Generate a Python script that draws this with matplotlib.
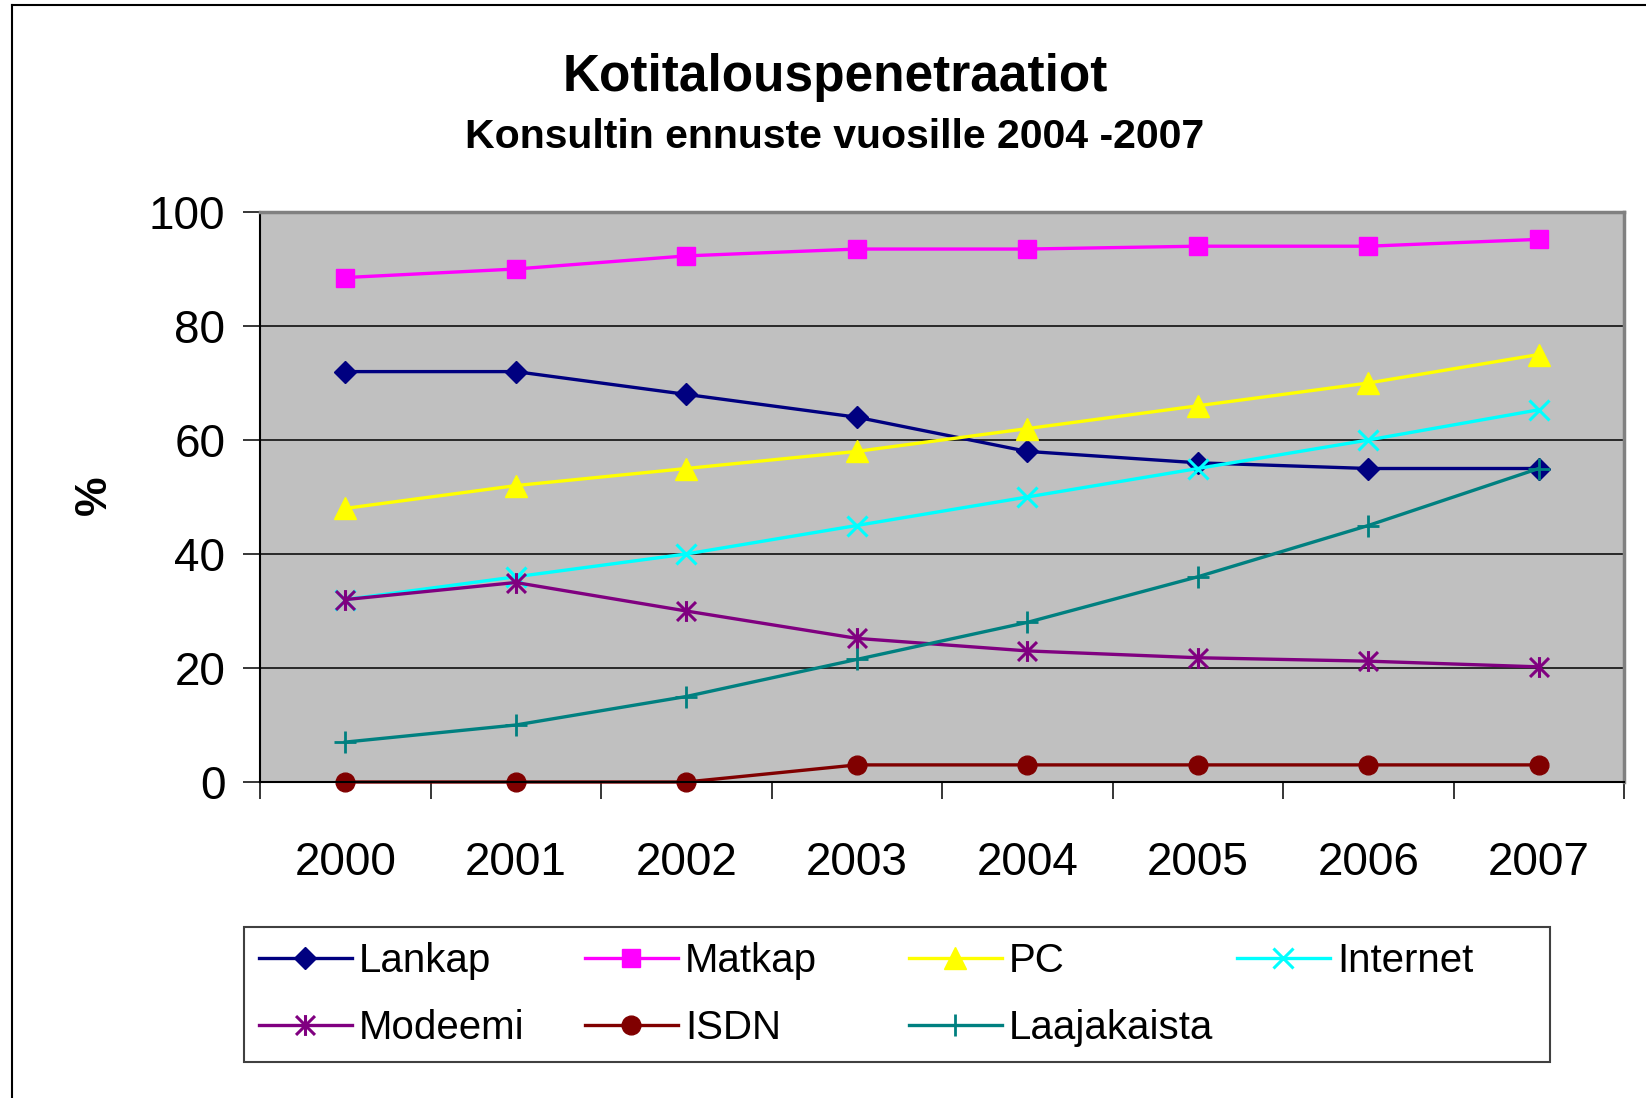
import matplotlib
matplotlib.use("Agg")
import matplotlib.pyplot as plt
from matplotlib.path import Path
from matplotlib.lines import Line2D
from matplotlib.patches import Rectangle

plt.rcParams['font.family'] = ['Liberation Sans', 'DejaVu Sans']

years = ['2000', '2001', '2002', '2003', '2004', '2005', '2006', '2007']
lankap = [72, 72, 68, 64, 58, 56, 55, 55]
matkap = [88.5, 90, 92.3, 93.5, 93.5, 94, 94, 95.2]
pc = [48, 52, 55, 58, 62, 66, 70, 75]
internet = [32, 36, 40, 45, 50, 55, 60, 65.3]
modeemi = [32, 35, 30, 25.2, 23, 21.8, 21.2, 20.2]
isdn = [0, 0, 0, 3, 3, 3, 3, 3]
laajakaista = [7, 10, 15, 21.5, 28, 36, 45, 55]

# excel style asterisk: X plus a vertical bar
star = Path([(-1, -1), (1, 1), (-1, 1), (1, -1), (0, -1.1), (0, 1.1)],
            [Path.MOVETO, Path.LINETO, Path.MOVETO, Path.LINETO, Path.MOVETO, Path.LINETO])

series = [
    ('Lankap', lankap, '#000080', dict(marker='D', ms=11)),
    ('Matkap', matkap, '#FF00FF', dict(marker='s', ms=13.5)),
    ('PC', pc, '#FFFF00', dict(marker='^', ms=16)),
    ('Internet', internet, '#00FFFF', dict(marker='x', ms=14.5, mew=2.2)),
    ('Modeemi', modeemi, '#800080', dict(marker=star, ms=15, mew=2.2, mfc='none')),
    ('ISDN', isdn, '#800000', dict(marker='o', ms=13.5)),
    ('Laajakaista', laajakaista, '#008080', dict(marker='+', ms=16, mew=2.0)),
]

W, H = 1646, 1098
fig = plt.figure(figsize=(W / 100, H / 100), dpi=100)
ax = fig.add_axes([260 / W, 1 - 782 / H, (1624 - 260) / W, (782 - 212) / H])
ax.set_facecolor('#C0C0C0')

x = range(len(years))
lines = []
for name, vals, col, st in series:
    ln, = ax.plot(x, vals, color=col, lw=2.4, label=name, mec=col, clip_on=False, **st)
    lines.append(ln)

ax.set_xlim(-0.5, 7.5)
ax.set_ylim(0, 100)
ax.set_yticks([0, 20, 40, 60, 80, 100])
ax.set_xticks([i - 0.5 for i in range(9)])
ax.set_xticklabels([])
ax.set_xticks(list(x), minor=True)
ax.set_xticklabels(years, minor=True)
ax.tick_params(axis='x', which='major', direction='out', length=12, width=1.1, color='black')
ax.tick_params(axis='x', which='minor', length=0, pad=42.5, labelsize=33)
ax.tick_params(axis='y', direction='out', length=12, width=1.1, pad=13, labelsize=33)

for yv in [20, 40, 60, 80]:
    ax.axhline(yv, color='black', lw=1.1, zorder=1)

ax.spines['top'].set_color('#808080')
ax.spines['top'].set_linewidth(2.5)
ax.spines['right'].set_color('#808080')
ax.spines['right'].set_linewidth(2.5)
ax.spines['left'].set_color('black')
ax.spines['left'].set_linewidth(1.5)
ax.spines['bottom'].set_color('black')
ax.spines['bottom'].set_linewidth(1.5)

fig.text(835 / W, 1 - 77 / H, 'Kotitalouspenetraatiot', ha='center', va='center',
         fontsize=37, fontweight='bold')
fig.text(835 / W, 1 - 137 / H, 'Konsultin ennuste vuosille 2004 -2007', ha='center', va='center',
         fontsize=29.5, fontweight='bold')
fig.text(94 / W, 1 - 495 / H, '%', rotation=90, ha='center', va='center',
         fontsize=32, fontweight='bold')

# legend: one column per legend so the columns sit at fixed spacing
cols = [[0, 4], [1, 5], [2, 6], [3]]
col_x = [259, 585, 909, 1237]
for idx, cx in zip(cols, col_x):
    fig.legend([lines[i] for i in idx], [series[i][0] for i in idx],
               loc='upper left', bbox_to_anchor=(cx / W, 1 - 942 / H),
               bbox_transform=fig.transFigure, frameon=False, fontsize=29,
               borderpad=0, borderaxespad=0, handlelength=2.3, handletextpad=0.18,
               labelspacing=0.72)
fig.patches.append(Rectangle((243.5 / W, 1 - 1062 / H), (1550 - 243.5) / W, 135 / H,
                             transform=fig.transFigure, fill=False, ec='#404040', lw=1.5))

# outer chart border (runs off the right and bottom edges)
fig.lines.append(Line2D([12 / W, 12 / W], [-0.01, 1 - 5 / H], transform=fig.transFigure,
                        color='black', lw=1.5))
fig.lines.append(Line2D([12 / W, 1.01], [1 - 5 / H, 1 - 5 / H], transform=fig.transFigure,
                        color='black', lw=1.5))

fig.savefig('out.png', dpi=100)
